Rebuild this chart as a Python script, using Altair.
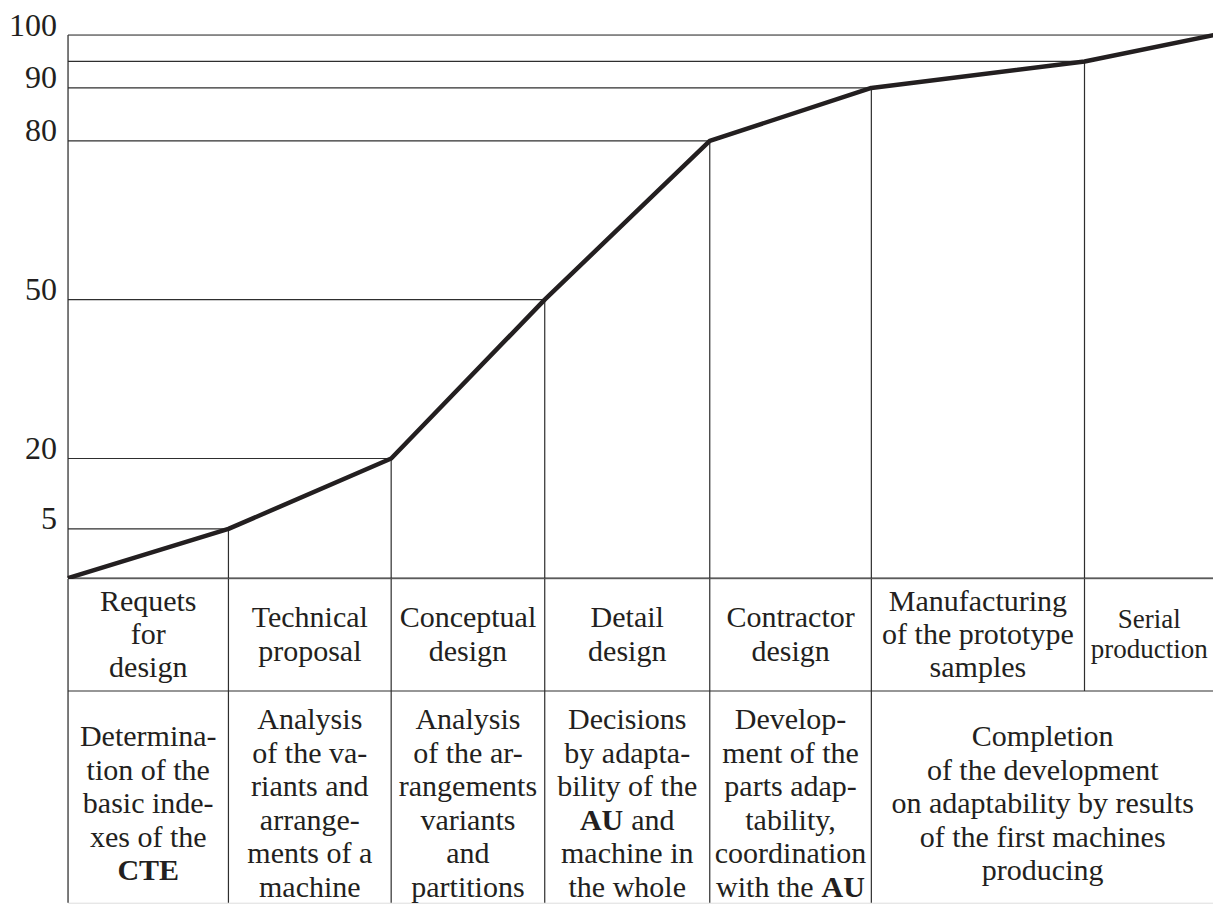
import altair as alt
import pandas as pd

# ---------------- data ----------------
# cumulative position of the stage boundaries along the design cycle (x, %)
stage_end = [0, 14.0, 28.2, 41.6, 56.0, 70.1, 88.7, 100]
# adaptability level reached at the end of each stage (y, %)
adapt_level = [0, 5, 20, 50, 80, 90, 95, 100]
# labelled levels on the vertical axis
y_ticks = [5, 20, 50, 80, 90, 100]

# first table row: stage names (one cell per stage)
stage_names = [
    ["Requets", "for", "design"],
    ["Technical", "proposal"],
    ["Conceptual", "design"],
    ["Detail", "design"],
    ["Contractor", "design"],
    ["Manufacturing", "of the prototype", "samples"],
    ["Serial", "production"],
]

# second table row: (first stage, last stage, lines); a line is a list of (text, bold)
stage_tasks = [
    (0, 0, [[("Determina-", 0)], [("tion of the", 0)], [("basic inde-", 0)],
            [("xes of the", 0)], [("CTE", 1)]]),
    (1, 1, [[("Analysis", 0)], [("of the va-", 0)], [("riants and", 0)],
            [("arrange-", 0)], [("ments of a", 0)], [("machine", 0)]]),
    (2, 2, [[("Analysis", 0)], [("of the ar-", 0)], [("rangements", 0)],
            [("variants", 0)], [("and", 0)], [("partitions", 0)]]),
    (3, 3, [[("Decisions", 0)], [("by adapta-", 0)], [("bility of the", 0)],
            [("AU", 1), ("and", 0)], [("machine in", 0)], [("the whole", 0)]]),
    (4, 4, [[("Develop-", 0)], [("ment of the", 0)], [("parts adap-", 0)],
            [("tability,", 0)], [("coordination", 0)], [("with the", 0), ("AU", 1)]]),
    (5, 6, [[("Completion", 0)], [("of the development", 0)],
            [("on adaptability by results", 0)], [("of the first machines", 0)],
            [("producing", 0)]]),
]

# ---------------- layout / style ----------------
FONT = "Liberation Serif"
INK = "#231f20"
GRID = "#2e2e2e"
FS = 30
FS_SMALL = 27            # the narrow "Serial production" cell
SMALL_CELLS = {6}
PX_ROW = 112.0           # pixel height of one table row unit
ROW1_C = 0.5
ROW2_C = 2.01
PLOT_W = 1146
PLOT_H = 543.2
TABLE_H = 323.7
TB = TABLE_H / PX_ROW    # visible bottom of the table in row units
# pixel offsets (right-aligned part, left-aligned part) for lines mixing weights
SPLIT = {"AU and": (-4, 4), "with the AU": (23, 31)}

xsc = alt.Scale(domain=[0, 100], nice=False, zero=False)
ysc = alt.Scale(domain=[0, 5, 20, 100],
                range=[PLOT_H, PLOT_H * (1 - 0.0907), PLOT_H * (1 - 0.2204), 0],
                nice=False, zero=False)
rsc = alt.Scale(domain=[0, TB], reverse=True, nice=False, zero=False)

yaxis = alt.Axis(values=y_ticks, labelFont=FONT, labelFontSize=32, labelColor=INK,
                 labelPadding=11.5, labelBaseline="alphabetic", labelOverlap=False,
                 labelFlush=False, domain=False, ticks=False, grid=False, title=None)

X = lambda f: alt.X(f"{f}:Q", scale=xsc, axis=None)
Y = alt.Y("y:Q", scale=ysc, axis=yaxis)

# ---------------- top chart ----------------
pts = pd.DataFrame({"x": stage_end, "y": adapt_level})
hlines = pts.iloc[1:].assign(x0=0)
vlines = pts.iloc[1:-1].assign(y0=0)
left_edge = pd.DataFrame({"x": [0], "y": [100], "y0": [0]})
base = pd.DataFrame({"x0": [0], "x": [100], "y": [0]})

h_layer = alt.Chart(hlines).mark_rule(color=GRID, strokeWidth=1.2).encode(
    x=X("x0"), x2="x:Q", y=Y)
v_layer = alt.Chart(vlines).mark_rule(color=GRID, strokeWidth=1.2).encode(
    x=X("x"), y=Y, y2="y0:Q")
e_layer = alt.Chart(left_edge).mark_rule(color=GRID, strokeWidth=1.2).encode(
    x=X("x"), y=Y, y2="y0:Q")
b_layer = alt.Chart(base).mark_rule(color=GRID, strokeWidth=1.2).encode(
    x=X("x0"), x2="x:Q", y=Y)
line = alt.Chart(pts).mark_line(color=INK, strokeWidth=4.5, strokeJoin="round",
                                strokeCap="butt").encode(x=X("x"), y=Y)

top = alt.layer(h_layer, v_layer, e_layer, b_layer, line).properties(
    width=PLOT_W, height=PLOT_H)

# ---------------- table ----------------
recs = []


def add_cell(x_c, y_c, lines, fs):
    n = len(lines)
    step = fs * 1.115 / PX_ROW
    for k, segs in enumerate(lines):
        y = y_c + (k - (n - 1) / 2) * step
        if len(segs) == 1:
            t, b = segs[0]
            recs.append(dict(x=x_c, y=y, text=t, bold=b, align="center", dx=0, fs=fs))
        else:
            key = " ".join(s[0] for s in segs)
            d1, d2 = SPLIT[key]
            (t1, b1), (t2, b2) = segs
            recs.append(dict(x=x_c, y=y, text=t1, bold=b1, align="right", dx=d1, fs=fs))
            recs.append(dict(x=x_c, y=y, text=t2, bold=b2, align="left", dx=d2, fs=fs))


for i, names in enumerate(stage_names):
    xc = (stage_end[i] + stage_end[i + 1]) / 2
    fs = FS_SMALL if i in SMALL_CELLS else FS
    add_cell(xc, ROW1_C, [[(t, 0)] for t in names], fs)

for first, last, lines in stage_tasks:
    xc = (stage_end[first] + stage_end[last + 1]) / 2
    add_cell(xc, ROW2_C, lines, FS)

tdf = pd.DataFrame(recs)

full_bounds = [stage_end[first] for first, _, _ in stage_tasks]
short_bounds = [b for b in stage_end[1:-1] if b not in full_bounds]

vfull = pd.DataFrame({"x": full_bounds, "y": 0.0, "y2": TB})
vshort = pd.DataFrame({"x": short_bounds, "y": 0.0, "y2": 1.0})
rowline = pd.DataFrame({"x0": [0], "x": [100], "y": [1.0]})

R = alt.Y("y:Q", scale=rsc, axis=None)

t_layers = [
    alt.Chart(vfull).mark_rule(color=GRID, strokeWidth=1.2).encode(x=X("x"), y=R, y2="y2:Q"),
    alt.Chart(vshort).mark_rule(color=GRID, strokeWidth=1.2).encode(x=X("x"), y=R, y2="y2:Q"),
    alt.Chart(rowline).mark_rule(color=GRID, strokeWidth=1.2).encode(x=X("x0"), x2="x:Q", y=R),
]
for (b, a, d), g in tdf.groupby(["bold", "align", "dx"]):
    t_layers.append(
        alt.Chart(g.reset_index(drop=True)).mark_text(
            align=a, dx=float(d), baseline="middle", font=FONT,
            fontWeight="bold" if b else "normal", color=INK
        ).encode(x=X("x"), y=R, text="text:N", size=alt.Size("fs:Q", scale=None))
    )

table = alt.layer(*t_layers).properties(width=PLOT_W, height=TABLE_H)

chart = alt.vconcat(top, table, spacing=0, bounds="flush").properties(
    padding={"left": 0, "top": 0, "right": -4, "bottom": 0},
).configure_view(stroke=None).configure(background="white")

chart.save("out.html", embed_options={"renderer": "svg", "actions": False})
